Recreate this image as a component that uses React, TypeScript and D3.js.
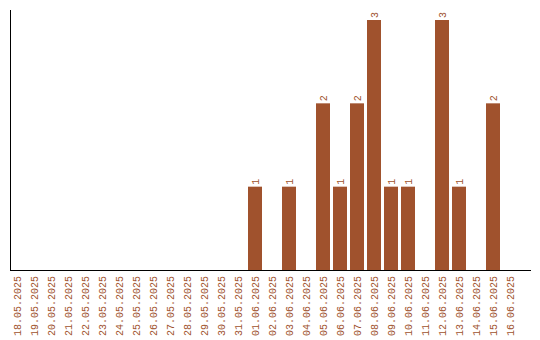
import React from "react";
import * as d3 from "d3";

const dates = [
  "18.05.2025", "19.05.2025", "20.05.2025", "21.05.2025", "22.05.2025",
  "23.05.2025", "24.05.2025", "25.05.2025", "26.05.2025", "27.05.2025",
  "28.05.2025", "29.05.2025", "30.05.2025", "31.05.2025", "01.06.2025",
  "02.06.2025", "03.06.2025", "04.06.2025", "05.06.2025", "06.06.2025",
  "07.06.2025", "08.06.2025", "09.06.2025", "10.06.2025", "11.06.2025",
  "12.06.2025", "13.06.2025", "14.06.2025", "15.06.2025", "16.06.2025",
];
const counts = [
  0, 0, 0, 0, 0,
  0, 0, 0, 0, 0,
  0, 0, 0, 0, 1,
  0, 1, 0, 2, 1,
  2, 3, 1, 1, 0,
  3, 1, 0, 2, 0,
];

const W = 540;
const H = 340;
const COLOR = "#a0522d";
const FONT = "'Liberation Mono', 'DejaVu Sans Mono', monospace";

export default function App() {
  const x = d3.scaleBand<string>().domain(dates).range([10, 517]).paddingInner(3 / 17).paddingOuter(0);
  const y = d3.scaleLinear().domain([0, 3]).range([270, 20]);
  const data = dates.map((d, i) => ({ d, v: counts[i] }));
  return (
    <svg
      width={W}
      height={H}
      style={{ position: "absolute", left: 0, top: 0, background: "#fff" }}
      fontFamily={FONT}
    >
      {data
        .filter((e) => e.v > 0)
        .map((e) => (
          <rect
            key={e.d}
            x={x(e.d)}
            y={y(e.v)}
            width={x.bandwidth()}
            height={y(0) - y(e.v)}
            fill={COLOR}
          />
        ))}
      {data
        .filter((e) => e.v > 0)
        .map((e) => (
          <text
            key={"v" + e.d}
            transform={`translate(${(x(e.d) as number) + x.bandwidth() / 2},${y(e.v) - 2}) rotate(-90)`}
            dy="0.35em"
            fontSize={10}
            fill={COLOR}
            textAnchor="start"
          >
            {e.v}
          </text>
        ))}
      <line x1={10.5} x2={10.5} y1={10} y2={270} stroke="#000" strokeWidth={1} />
      <line x1={10} x2={531} y1={270.5} y2={270.5} stroke="#000" strokeWidth={1} />
      {dates.map((d) => (
        <text
          key={"l" + d}
          transform={`translate(${(x(d) as number) + x.bandwidth() / 2},276) rotate(-90)`}
          dy="0.35em"
          fontSize={10}
          fill={COLOR}
          textAnchor="end"
        >
          {d}
        </text>
      ))}
    </svg>
  );
}
